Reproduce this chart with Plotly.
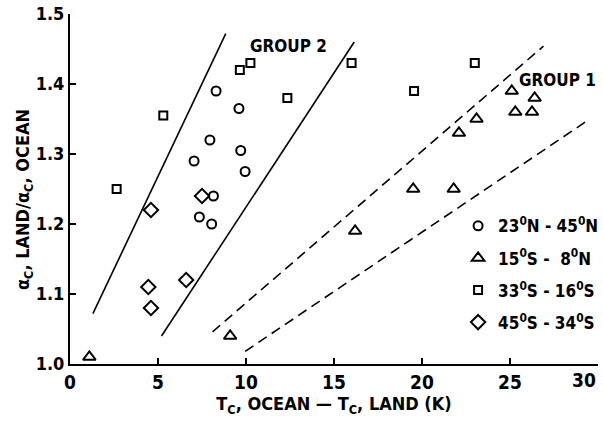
import plotly.graph_objects as go

# ---- data ----
circle_x = [8.3, 9.6, 7.95, 9.7, 7.05, 9.95, 8.15, 7.35, 8.05]
circle_y = [1.39, 1.365, 1.32, 1.305, 1.29, 1.275, 1.24, 1.21, 1.20]

triangle_x = [1.1, 9.1, 16.2, 19.5, 21.8, 22.1, 23.1, 25.1, 25.3, 26.25, 26.4]
triangle_y = [1.01, 1.04, 1.19, 1.25, 1.25, 1.33, 1.35, 1.39, 1.36, 1.36, 1.38]

square_x = [2.65, 5.3, 9.65, 10.25, 12.35, 16.0, 19.55, 23.0]
square_y = [1.25, 1.355, 1.42, 1.43, 1.38, 1.43, 1.39, 1.43]

diamond_x = [4.45, 4.6, 4.6, 6.6, 7.5]
diamond_y = [1.11, 1.08, 1.22, 1.12, 1.24]

series_names = ["23<sup>0</sup>N - 45<sup>0</sup>N",
                "15<sup>0</sup>S -  8<sup>0</sup>N",
                "33<sup>0</sup>S - 16<sup>0</sup>S",
                "45<sup>0</sup>S - 34<sup>0</sup>S"]

group2_left_x = [1.3, 8.85]
group2_left_y = [1.072, 1.472]
group2_right_x = [5.2, 16.15]
group2_right_y = [1.04, 1.46]
group1_upper_x = [8.1, 26.9]
group1_upper_y = [1.046, 1.454]
group1_lower_x = [9.95, 29.3]
group1_lower_y = [1.018, 1.346]

x_ticks = [0, 5, 10, 15, 20, 25, 30]
x_tick_text = ["0", "5", "10", "15", "20", "25", ""]   # "30" drawn right-aligned below
last_x_label = "30"
y_ticks = [1.0, 1.1, 1.2, 1.3, 1.4, 1.5]
y_tick_text = ["1.0", "1.1", "1.2", "1.3", "1.4", "1.5"]

FONT = "DejaVu Sans Condensed, Liberation Sans Narrow, Arial Narrow, sans-serif"

fig = go.Figure()

# boundary lines
for xs, ys, dash in [(group2_left_x, group2_left_y, "solid"),
                     (group2_right_x, group2_right_y, "solid"),
                     (group1_upper_x, group1_upper_y, "10px,6px"),
                     (group1_lower_x, group1_lower_y, "10px,6px")]:
    fig.add_trace(go.Scatter(x=xs, y=ys, mode="lines", showlegend=False,
                             line=dict(color="black", width=1.6, dash=dash),
                             hoverinfo="skip"))

marker_sets = [
    (circle_x, circle_y, "circle-open", 9),
    (triangle_x, triangle_y, "triangle-up-open", 11),
    (square_x, square_y, "square-open", 8),
    (diamond_x, diamond_y, "diamond-open", 11),
]
for i, (xs, ys, sym, sz) in enumerate(marker_sets):
    fig.add_trace(go.Scatter(
        x=xs, y=ys, mode="markers", name=series_names[i],
        legendgroup=f"g{i}", cliponaxis=False,
        marker=dict(symbol=sym, size=sz, color="black",
                    line=dict(color="black", width=2))))

fig.add_annotation(x=12.4, y=1.454, text="GROUP 2", showarrow=False,
                   font=dict(size=17, family=FONT, color="black", weight="bold"))
fig.add_annotation(x=27.7, y=1.406, text="GROUP 1", showarrow=False,
                   font=dict(size=17, family=FONT, color="black", weight="bold"))
fig.add_annotation(xref="paper", yref="paper", x=-0.088, y=0.47,
                   text="\u03b1<sub>C</sub>, LAND/\u03b1<sub>C</sub>, OCEAN",
                   textangle=-90, showarrow=False, xanchor="center", yanchor="middle",
                   font=dict(size=18, family=FONT, color="black", weight="bold"))
fig.add_annotation(x=x_ticks[-1], xref="x", yref="paper", y=0, yshift=-3,
                   text=last_x_label, showarrow=False, xanchor="right", yanchor="top",
                   font=dict(size=19, family=FONT, color="black", weight="bold"))

fig.update_layout(
    width=603, height=422,
    margin=dict(l=70, r=5, t=14, b=58, autoexpand=False),
    paper_bgcolor="white", plot_bgcolor="white",
    font=dict(family=FONT, color="black", size=17, weight="bold"),
    legend=dict(x=0.735, y=0.445, xanchor="left", yanchor="top",
                font=dict(size=17, family=FONT, color="black", weight="bold"),
                tracegroupgap=7, itemwidth=30, bgcolor="rgba(0,0,0,0)"),
    xaxis=dict(range=[0, 30], tickvals=x_ticks, ticktext=x_tick_text,
               ticks="inside", ticklen=6,
               tickwidth=2, tickcolor="black", showline=True, linewidth=2,
               linecolor="black", showgrid=False, zeroline=False,
               ticklabeloverflow="allow", automargin=False,
               tickfont=dict(size=19, family=FONT, weight="bold"),
               title=dict(text="T<sub>C</sub>, OCEAN \u2014 T<sub>C</sub>, LAND (K)",
                          font=dict(size=18, family=FONT, weight="bold"), standoff=6)),
    yaxis=dict(range=[1.0, 1.5], tickvals=y_ticks, ticktext=y_tick_text,
               ticks="inside", ticklen=6, tickwidth=2, tickcolor="black",
               showline=True, linewidth=2, linecolor="black", showgrid=False,
               zeroline=False, ticklabeloverflow="allow", automargin=False,
               tickfont=dict(size=18, family=FONT, weight="bold")),
)

fig.write_html("out.html")
